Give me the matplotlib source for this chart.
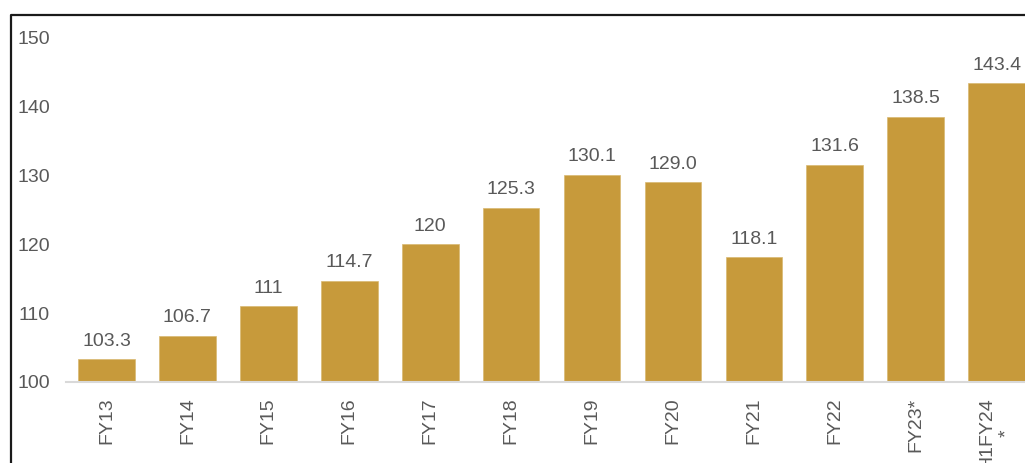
import matplotlib.pyplot as plt
from matplotlib.lines import Line2D

plt.rcParams['font.family'] = ['Liberation Sans', 'DejaVu Sans']

# Values
years = ["FY13", "FY14", "FY15", "FY16", "FY17", "FY18",
         "FY19", "FY20", "FY21", "FY22", "FY23*", "H1FY24\n*"]
values = [103.3, 106.7, 111, 114.7, 120, 125.3,
          130.1, 129.0, 118.1, 131.6, 138.5, 143.4]
value_labels = ["103.3", "106.7", "111", "114.7", "120", "125.3",
                "130.1", "129.0", "118.1", "131.6", "138.5", "143.4"]

bar_color = "#C79A3B"
text_color = "#595959"

W, H = 1025, 463
fig = plt.figure(figsize=(W / 100, H / 100), dpi=100)

# axes box in pixel terms: left 66, bottom y=382, top (150) at y=38
ax = fig.add_axes([66 / W, (H - 382) / H, (W - 66) / W, (382 - 38) / H])

x = range(len(years))
bars = ax.bar(x, [v - 100 for v in values], bottom=100, width=0.7,
              color=bar_color, edgecolor="#D9B872", linewidth=0.5)

for xi, v, lab in zip(x, values, value_labels):
    ax.annotate(lab, (xi, v), xytext=(0, 7), textcoords="offset points",
                ha="center", va="bottom", fontsize=14, color=text_color,
                annotation_clip=False)

ax.set_xlim(-0.5, 11.35)
ax.set_ylim(100, 150)
ax.set_yticks([100, 110, 120, 130, 140, 150])
ax.set_xticks(list(x))
ax.set_xticklabels(years, rotation=90, va="top", ha="center",
                   multialignment="center")

ax.tick_params(axis="both", length=0, labelsize=14, colors=text_color)
ax.tick_params(axis="x", pad=11)
ax.tick_params(axis="y", pad=11.5)

for s in ["top", "right", "left"]:
    ax.spines[s].set_visible(False)
ax.spines["bottom"].set_color("#D9D9D9")
ax.spines["bottom"].set_linewidth(1.5)

# outer frame (left and top edges visible)
fx0, fy0 = 10.5 / W, 1 - 14.5 / H
fig.add_artist(Line2D([fx0, fx0, 1.01], [-0.01, fy0, fy0],
                      transform=fig.transFigure, color="#1a1a1a",
                      linewidth=1.6, clip_on=False))

fig.savefig("out.png", dpi=100)
